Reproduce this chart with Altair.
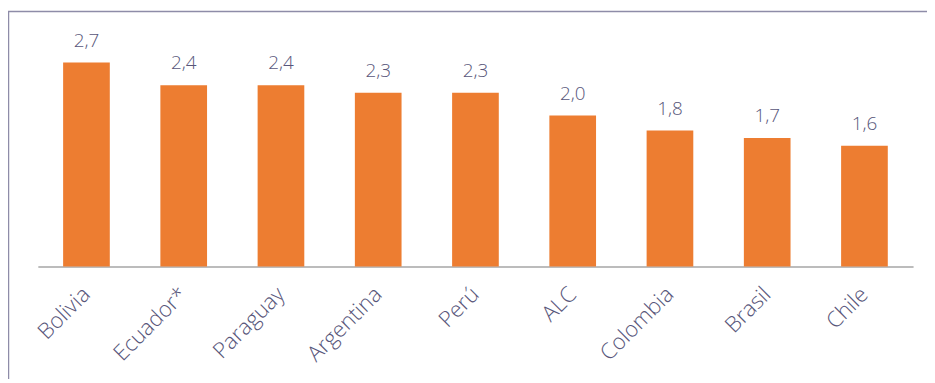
import altair as alt
import pandas as pd

categories = ["Bolivia", "Ecuador*", "Paraguay", "Argentina", "Perú", "ALC", "Colombia", "Brasil", "Chile"]
values = [2.7, 2.4, 2.4, 2.3, 2.3, 2.0, 1.8, 1.7, 1.6]
value_labels = ["2,7", "2,4", "2,4", "2,3", "2,3", "2,0", "1,8", "1,7", "1,6"]

df = pd.DataFrame({"pais": categories, "valor": values, "etiqueta": value_labels})

W = 880
H = 228
FONT = "Open Sans"
TXT = "#58567A"

x_enc = alt.X("pais:N", sort=categories, title=None,
              scale=alt.Scale(paddingInner=0.52, paddingOuter=0.26),
              axis=alt.Axis(labelAngle=-45, labelFont=FONT, labelFontSize=22,
                            labelFontWeight=300,
                            labelColor=TXT, ticks=False, domainColor="#A6A6A6",
                            domainWidth=1.5, labelPadding=24, grid=False,
                            labelAlign="right", labelBaseline="middle"))
y_enc = alt.Y("valor:Q", scale=alt.Scale(domain=[0, 3]), axis=None)

base = alt.Chart(df)

frame = alt.Chart(pd.DataFrame({"a": [0]})).mark_rect(
    fill="white", fillOpacity=0, stroke="#8E8CA8", strokeWidth=1.5
).encode(
    x=alt.value(-29.5), x2=alt.value(W + 60),
    y=alt.value(-28.6), y2=alt.value(H + 200)
)

bars = base.mark_bar(color="#ED7D31").encode(x=x_enc, y=y_enc)

text = base.mark_text(font=FONT, fontSize=19, fontWeight=300, color=TXT,
                      baseline="alphabetic", dy=-16).encode(
    x=alt.X("pais:N", sort=categories), y="valor:Q", text="etiqueta:N"
)

chart = alt.layer(frame, bars, text).properties(
    width=W, height=H,
    padding={"left": 30, "top": 31, "right": 14, "bottom": 112},
    autosize=alt.AutoSizeParams(type="none")
).configure(background="white").configure_view(stroke=None, strokeWidth=0)

chart.save("out.html", embed_options={"renderer": "svg", "actions": False})
